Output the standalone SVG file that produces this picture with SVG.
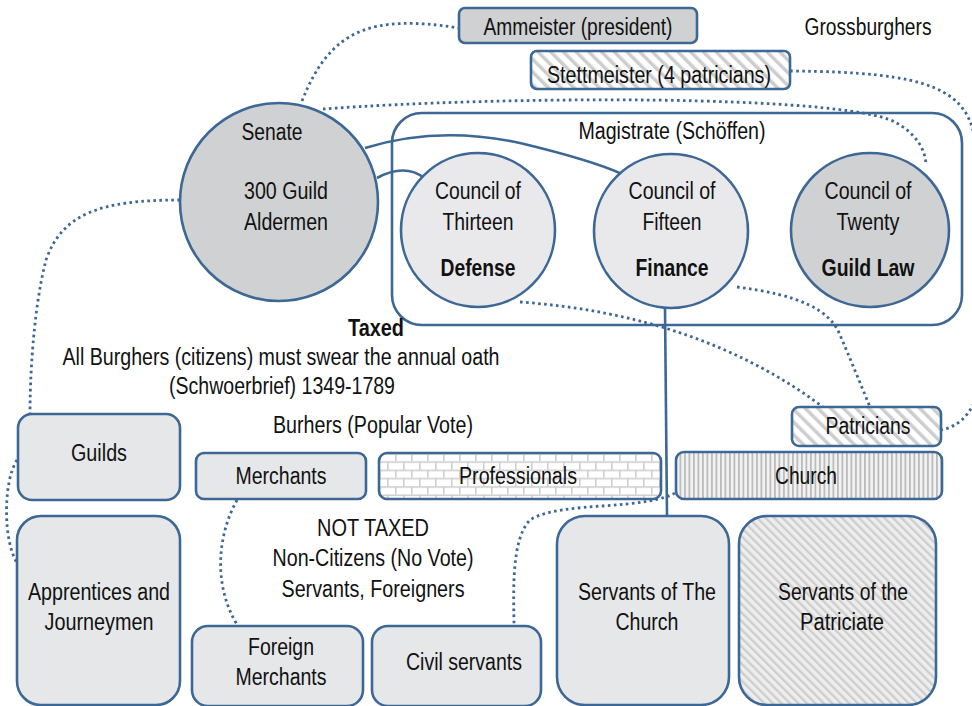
<svg xmlns="http://www.w3.org/2000/svg" width="972" height="706" viewBox="0 0 972 706">
<defs>
<style>
.t{font-family:"Liberation Sans Narrow","Liberation Sans",Arial,sans-serif;font-size:23px;fill:#111;text-anchor:middle}
.b{font-weight:bold}
.n{stroke:#3d6794;stroke-width:2.6}
.g1{fill:#d0d1d3}
.g2{fill:#e6e7e9}
.g3{fill:#e9e9eb}
.c{fill:none;stroke:#3d6794;stroke-width:2.6}
.d{fill:none;stroke:#3d6794;stroke-width:2.8;stroke-dasharray:2.6 3.4}
</style>
<pattern id="diag" patternUnits="userSpaceOnUse" width="9" height="9" patternTransform="rotate(-45)">
<rect width="9" height="9" fill="#ffffff"/>
<rect width="3.5" height="9" fill="#cdcdcd"/>
</pattern>
<pattern id="fine" patternUnits="userSpaceOnUse" width="6" height="6" patternTransform="rotate(-45)">
<rect width="6" height="6" fill="#eeeeee"/>
<rect width="2.4" height="6" fill="#cecece"/>
</pattern>
<pattern id="vert" patternUnits="userSpaceOnUse" width="4.5" height="10">
<rect width="4.5" height="10" fill="#f2f2f2"/>
<rect width="1.8" height="10" fill="#bcbcbc"/>
</pattern>
<pattern id="brick" patternUnits="userSpaceOnUse" width="16" height="16.6" x="379" y="453">
<rect width="16" height="16.6" fill="#ffffff"/>
<rect y="0" width="16" height="1.6" fill="#cfcfcf"/>
<rect y="8.3" width="16" height="1.6" fill="#cfcfcf"/>
<rect x="0" y="0" width="1.6" height="8.3" fill="#cfcfcf"/>
<rect x="8" y="8.3" width="1.6" height="8.3" fill="#cfcfcf"/>
</pattern>
</defs>
<rect width="972" height="706" fill="#ffffff"/>

<g id="magistrate">
<rect x="392" y="113" width="570" height="212" rx="30" fill="none" class="n"/>
<text class="t" x="672" y="139" textLength="187" lengthAdjust="spacingAndGlyphs">Magistrate (Schöffen)</text>
</g>

<g id="connectors">
<path class="d" d="M302,101 C330,30 370,14 459,28"/>
<path class="d" d="M323,109 C500,96 840,94 895,122 C915,133 925,148 926,164"/>
<path class="d" d="M790,71 C930,72 972,88 976,150 L980,380 C976,410 962,425 942,430"/>
<path class="d" d="M180,200 C100,200 62,214 46,260 C33,310 30,380 30,413"/>
<path class="d" d="M17,460 C3,482 3,540 17,563"/>
<path class="c" d="M365,148 C410,134 460,130 520,143 C570,155 600,164 622,174"/>
<path class="c" d="M377,178 C395,168 412,168 424,178"/>
<path class="c" d="M665,308 L667,516"/>
<path class="d" d="M520,302 Q700,315 823,407"/>
<path class="d" d="M737,287 C800,295 830,310 840,335 C855,370 865,395 870,407"/>
<path class="d" d="M237,500 C215,540 215,590 238,626"/>
<path class="d" d="M680,490 C650,512 560,500 530,520 C510,540 514,600 514,626"/>
</g>

<g id="ammeister">
<rect x="459" y="8" width="238" height="35" rx="6" class="n g1"/>
<text class="t" x="578" y="35" textLength="189" lengthAdjust="spacingAndGlyphs">Ammeister (president)</text>
</g>
<g id="grossburghers">
<text class="t" x="868" y="35" textLength="127" lengthAdjust="spacingAndGlyphs">Grossburghers</text>
</g>
<g id="stettmeister">
<rect x="531" y="51" width="259" height="38" rx="6" class="n" fill="url(#diag)"/>
<text class="t" x="659" y="83" textLength="224" lengthAdjust="spacingAndGlyphs">Stettmeister (4 patricians)</text>
</g>

<g id="senate">
<circle cx="279" cy="202" r="99" class="n g1"/>
<text class="t" x="272" y="140" textLength="61" lengthAdjust="spacingAndGlyphs">Senate</text>
<text class="t" x="286" y="199" textLength="84" lengthAdjust="spacingAndGlyphs">300 Guild</text>
<text class="t" x="286" y="230" textLength="84" lengthAdjust="spacingAndGlyphs">Aldermen</text>
</g>

<g id="council13">
<circle cx="478" cy="230" r="77" class="n g3"/>
<text class="t" x="478" y="199" textLength="86" lengthAdjust="spacingAndGlyphs">Council of</text>
<text class="t" x="478" y="230" textLength="71" lengthAdjust="spacingAndGlyphs">Thirteen</text>
<text class="t b" x="478" y="276" textLength="75" lengthAdjust="spacingAndGlyphs">Defense</text>
</g>
<g id="council15">
<circle cx="671" cy="231" r="77" class="n g3"/>
<text class="t" x="672" y="199" textLength="87" lengthAdjust="spacingAndGlyphs">Council of</text>
<text class="t" x="672" y="230" textLength="59" lengthAdjust="spacingAndGlyphs">Fifteen</text>
<text class="t b" x="672" y="276" textLength="73" lengthAdjust="spacingAndGlyphs">Finance</text>
</g>
<g id="council20">
<ellipse cx="870" cy="230" rx="79" ry="77" class="n g1"/>
<text class="t" x="868" y="199" textLength="87" lengthAdjust="spacingAndGlyphs">Council of</text>
<text class="t" x="868" y="230" textLength="63" lengthAdjust="spacingAndGlyphs">Twenty</text>
<text class="t b" x="868" y="276" textLength="93" lengthAdjust="spacingAndGlyphs">Guild Law</text>
</g>

<g id="taxed-label">
<text class="t b" x="376" y="336" textLength="56" lengthAdjust="spacingAndGlyphs">Taxed</text>
<text class="t" x="281" y="365" textLength="437" lengthAdjust="spacingAndGlyphs">All Burghers (citizens) must swear the annual oath</text>
<text class="t" x="282" y="394" textLength="226" lengthAdjust="spacingAndGlyphs">(Schwoerbrief) 1349-1789</text>
</g>
<g id="burghers-label">
<text class="t" x="373" y="433" textLength="200" lengthAdjust="spacingAndGlyphs">Burhers (Popular Vote)</text>
</g>

<g id="guilds">
<rect x="18" y="414" width="162" height="86" rx="14" class="n g2"/>
<text class="t" x="99" y="461" textLength="56" lengthAdjust="spacingAndGlyphs">Guilds</text>
</g>
<g id="merchants">
<rect x="196" y="453" width="170" height="46" rx="8" class="n g2"/>
<text class="t" x="281" y="484" textLength="91" lengthAdjust="spacingAndGlyphs">Merchants</text>
</g>
<g id="professionals">
<rect x="379" y="453" width="282" height="46" rx="8" class="n" fill="url(#brick)"/>
<text class="t" x="518" y="484" textLength="118" lengthAdjust="spacingAndGlyphs">Professionals</text>
</g>
<g id="church">
<rect x="676" y="452" width="266" height="47" rx="8" class="n" fill="url(#vert)"/>
<text class="t" x="806" y="484" textLength="62" lengthAdjust="spacingAndGlyphs">Church</text>
</g>
<g id="patricians">
<rect x="792" y="407" width="149" height="39" rx="7" class="n" fill="url(#diag)"/>
<text class="t" x="868" y="434" textLength="85" lengthAdjust="spacingAndGlyphs">Patricians</text>
</g>

<g id="nottaxed-label">
<text class="t" x="373" y="536" textLength="112" lengthAdjust="spacingAndGlyphs">NOT TAXED</text>
<text class="t" x="373" y="566" textLength="201" lengthAdjust="spacingAndGlyphs">Non-Citizens (No Vote)</text>
<text class="t" x="373" y="597" textLength="183" lengthAdjust="spacingAndGlyphs">Servants, Foreigners</text>
</g>

<g id="apprentices">
<rect x="17" y="516" width="163" height="189" rx="24" class="n g2"/>
<text class="t" x="99" y="600" textLength="142" lengthAdjust="spacingAndGlyphs">Apprentices and</text>
<text class="t" x="99" y="630" textLength="109" lengthAdjust="spacingAndGlyphs">Journeymen</text>
</g>
<g id="foreign-merchants">
<rect x="192" y="626" width="171" height="80" rx="16" class="n g2"/>
<text class="t" x="281" y="655" textLength="66" lengthAdjust="spacingAndGlyphs">Foreign</text>
<text class="t" x="281" y="685" textLength="91" lengthAdjust="spacingAndGlyphs">Merchants</text>
</g>
<g id="civil-servants">
<rect x="372" y="626" width="169" height="80" rx="16" class="n g2"/>
<text class="t" x="464" y="670" textLength="116" lengthAdjust="spacingAndGlyphs">Civil servants</text>
</g>
<g id="servants-church">
<rect x="557" y="516" width="172" height="189" rx="28" class="n g2"/>
<text class="t" x="647" y="600" textLength="138" lengthAdjust="spacingAndGlyphs">Servants of The</text>
<text class="t" x="647" y="630" textLength="63" lengthAdjust="spacingAndGlyphs">Church</text>
</g>
<g id="servants-patriciate">
<rect x="739" y="516" width="197" height="189" rx="28" class="n" fill="url(#fine)"/>
<text class="t" x="843" y="600" textLength="130" lengthAdjust="spacingAndGlyphs">Servants of the</text>
<text class="t" x="842" y="630" textLength="84" lengthAdjust="spacingAndGlyphs">Patriciate</text>
</g>
</svg>
